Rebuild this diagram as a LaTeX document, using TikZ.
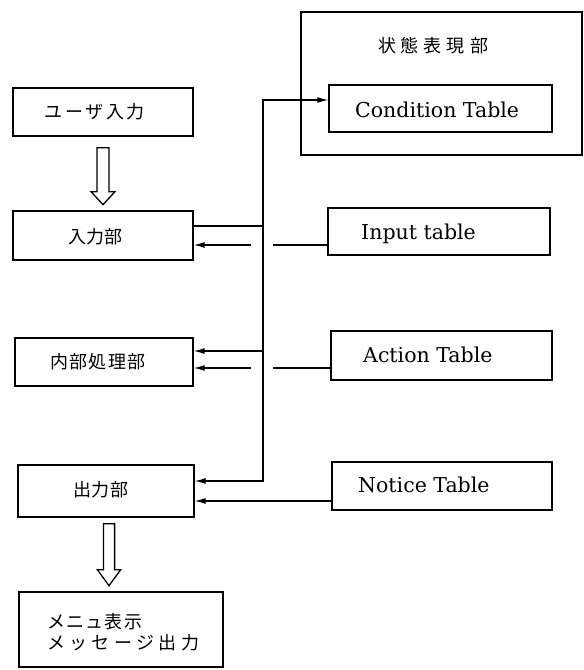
\documentclass[tikz,border=0pt]{standalone}
\usepackage{fontspec}
\setmainfont{DejaVu Serif}
\newfontfamily\jpfont{Noto Sans CJK JP}
\usetikzlibrary{arrows.meta,calc}

\tikzset{
  pics/fatarrow/.style n args={4}{code={
    % #1 shaft half width, #2 length, #3 head length, #4 head half width
    \draw[hollow] (-#1,0) -- (-#1,#2-#3) -- (-#4,#2-#3) -- (0,#2)
      -- (#4,#2-#3) -- (#1,#2-#3) -- (#1,0) -- cycle;
  }}
}

\begin{document}
\begin{tikzpicture}[x=1pt,y=-1pt,
  box/.style={draw, line width=1.3pt, inner sep=0pt},
  conn/.style={line width=1.3pt},
  arr/.style={conn, -{Latex[length=11pt,width=6pt]}},
  jp/.style={font=\jpfont\fontsize{18}{21}\selectfont, inner sep=0pt},
  lat/.style={font=\fontsize{20.5}{24}\selectfont, inner sep=0pt, anchor=base west},
  hollow/.style={draw, line width=1.3pt, line join=miter, fill=white},
]
\useasboundingbox (0,0) rectangle (584,670);

% state representation block
\node[box, minimum width=281pt, minimum height=143pt] (state) at (441.5,83.5) {};
\node[jp] (ttl) at (433,46) {\makebox[110pt][s]{状\hfil 態\hfil 表\hfil 現\hfil 部}};
\node[box, minimum width=223pt, minimum height=47pt] (cond) at (440.5,108.5) {};
\node[lat] (tcond) at (355,117.3) {Condition Table};

% table boxes on the right
\node[box, minimum width=222pt, minimum height=47pt] (itab) at (439,231.5) {};
\node[lat] (titab) at (361,239.3) {Input table};
\node[box, minimum width=221pt, minimum height=49pt] (atab) at (441.5,355.5) {};
\node[lat] (tatab) at (363,362.3) {Action Table};
\node[box, minimum width=220pt, minimum height=48pt] (ntab) at (442,486) {};
\node[lat] (tntab) at (358,492.3) {Notice Table};

% processing chain on the left
\node[box, minimum width=180pt, minimum height=48pt] (user) at (103,112) {};
\node[jp] (tuser) at (95,112) {\makebox[100pt][s]{ユ\hfil ー\hfil ザ\hfil 入\hfil 力}};
\node[box, minimum width=180pt, minimum height=49pt] (inp) at (103,235.5) {};
\node[jp] (tinp) at (95,237) {\makebox[54pt][s]{入\hfil 力\hfil 部}};
\node[box, minimum width=178pt, minimum height=48pt] (proc) at (104,362) {};
\node[jp] (tproc) at (98,362) {\makebox[96pt][s]{内\hfil 部\hfil 処\hfil 理\hfil 部}};
\node[box, minimum width=176pt, minimum height=52pt] (outp) at (106,491) {};
\node[jp] (toutp) at (101,490) {\makebox[56pt][s]{出\hfil 力\hfil 部}};
\node[box, minimum width=204pt, minimum height=75pt] (disp) at (121,629.5) {};
\node[jp, anchor=west] (tdisp1) at (47,622) {\makebox[95pt][s]{メ\hfil ニ\hfil ュ\hfil 表\hfil 示}};
\node[jp, anchor=west] (tdisp2) at (47,643) {\makebox[152pt][s]{メ\hfil ッ\hfil セ\hfil ー\hfil ジ\hfil 出\hfil 力}};

% hollow flow arrows
\pic at ($(user.south)+(0,11)$) {fatarrow={6}{57}{13}{12}};
\pic at ($(outp.south)+(3,6)$) {fatarrow={5.6}{62}{16}{11.7}};

% ports and bus
\coordinate (bus) at (263,0);
\coordinate (gapL) at (251,0);
\coordinate (gapR) at (273,0);
\coordinate (inHi) at ([yshift=9.5pt]inp.east);
\coordinate (inLo) at ([yshift=-9.5pt]inp.east);
\coordinate (cIn) at ([yshift=8.5pt]cond.west);
\coordinate (itOut) at ([yshift=-13.5pt]itab.west);
\coordinate (prHi) at ([yshift=11pt]proc.east);
\coordinate (prLo) at ([yshift=-6pt]proc.east);
\coordinate (atOut) at ([yshift=-12.5pt]atab.west);
\coordinate (opHi) at ([yshift=10pt]outp.east);
\coordinate (opLo) at ([yshift=-10pt]outp.east);
\coordinate (ntOut) at ([yshift=-15pt]ntab.west);

\draw[arr] (inHi) -| (bus |- cIn) -- (cIn);
\draw[arr] (bus |- inHi) |- (opHi);
\draw[arr] (bus |- prHi) -- (prHi);
\draw[conn] (itOut) -- (gapR |- itOut);
\draw[arr] (gapL |- inLo) -- (inLo);
\draw[conn] (atOut) -- (gapR |- atOut);
\draw[arr] (gapL |- prLo) -- (prLo);
\draw[arr] (ntOut) -- (opLo);
\end{tikzpicture}
\end{document}
